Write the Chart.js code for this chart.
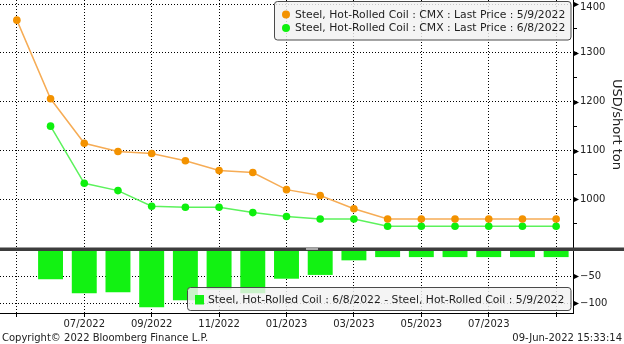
<!DOCTYPE html>
<html>
<head>
<meta charset="utf-8">
<script src="https://cdn.jsdelivr.net/npm/chart.js@4/dist/chart.umd.min.js"></script>
<style>
  html, body { margin: 0; padding: 0; background: #fff; overflow: hidden; }
  canvas { display: block; }
</style>
</head>
<body>
<canvas id="c" width="624" height="344"></canvas>
<script>
// Contract months on the CME HRC futures curve
const MONTHS = ['05/2022', '06/2022', '07/2022', '08/2022', '09/2022', '10/2022', '11/2022', '12/2022',
                '01/2023', '02/2023', '03/2023', '04/2023', '05/2023', '06/2023', '07/2023', '08/2023', '09/2023'];

// Curve as of 5/9/2022 (USD/short ton)
const CURVE_MAY9 = [1367, 1206, 1115, 1098, 1094, 1079, 1059, 1055, 1020, 1008, 981, 960, 960, 960, 960, 960, 960];

// Curve as of 6/8/2022 (USD/short ton)
const CURVE_JUN8 = [null, 1150, 1033, 1018, 986, 984, 984, 973, 965, 960, 960, 945, 945, 945, 945, 945, 945];

// Change between the two curves (6/8 minus 5/9)
const CURVE_CHANGE = [null, -56, -82, -80, -108, -95, -75, -82, -55, -48, -21, -15, -15, -15, -15, -15, -15];

// Right-hand axis ticks
const PRICE_TICKS = [950, 1000, 1050, 1100, 1150, 1200, 1250, 1300, 1350, 1400];
const CHANGE_TICKS = [-100, -75, -50, -25, 0];

const LABEL_MAY9 = 'Steel, Hot-Rolled Coil : CMX : Last Price : 5/9/2022';
const LABEL_JUN8 = 'Steel, Hot-Rolled Coil : CMX : Last Price : 6/8/2022';
const LABEL_CHANGE = 'Steel, Hot-Rolled Coil : 6/8/2022 - Steel, Hot-Rolled Coil : 5/9/2022';

const FAMILY = '"DejaVu Sans", sans-serif';
const ORANGE = '#F39200';
const ORANGE_LINE = '#F6AC55';
const GREEN = '#0EF00E';
const GREEN_LINE = '#5CF25C';
const BAR_GREEN = '#12F212';
const CLEAR = 'rgba(0,0,0,0)';

const priceLabelled = v => v % 100 === 0;
const changeLabelled = v => v % 50 === 0 && v !== 0;
const TOP_PRICE = PRICE_TICKS[PRICE_TICKS.length - 1];

// keep the plot flush with the canvas edges
function noEdgePadding(s) {
  s.paddingTop = 0; s.paddingBottom = 0; s.paddingLeft = 0; s.paddingRight = 0;
}

function boxPath(ctx, x, y, w, h, r) {
  ctx.beginPath();
  ctx.moveTo(x + r, y);
  ctx.lineTo(x + w - r, y);
  ctx.arcTo(x + w, y, x + w, y + r, r);
  ctx.lineTo(x + w, y + h - r);
  ctx.arcTo(x + w, y + h, x + w - r, y + h, r);
  ctx.lineTo(x + r, y + h);
  ctx.arcTo(x, y + h, x, y + h - r, r);
  ctx.lineTo(x, y + r);
  ctx.arcTo(x, y, x + r, y, r);
  ctx.closePath();
}

function legendBox(ctx, x, y, w, h) {
  boxPath(ctx, x, y, w, h, 3);
  ctx.fillStyle = 'rgba(242,242,242,0.82)';
  ctx.fill();
  ctx.lineWidth = 1;
  ctx.strokeStyle = '#4a4a4a';
  ctx.stroke();
}

// Pane divider, tick arrows, in-plot legends and footer
const bloombergDecor = {
  id: 'bloombergDecor',
  afterDraw(chart) {
    const { ctx, chartArea: a, scales } = chart;
    const ds = chart.data.datasets;
    ctx.save();

    // arrow heads on labelled ticks
    ctx.fillStyle = '#000';
    [['y', priceLabelled], ['y2', changeLabelled]].forEach(([id, isLab]) => {
      const s = scales[id];
      s.ticks.forEach(t => {
        if (!isLab(t.value)) return;
        const y = Math.round(s.getPixelForValue(t.value)) + 0.5;
        ctx.beginPath();
        ctx.moveTo(a.right, y - 3);
        ctx.lineTo(a.right + 6, y);
        ctx.lineTo(a.right, y + 3);
        ctx.closePath();
        ctx.fill();
      });
    });

    // divider between the price pane and the change pane
    const yDiv = scales.y2.top;
    ctx.fillStyle = '#3d3d3d';
    ctx.fillRect(0, yDiv - 1.5, chart.width, 3.5);
    ctx.fillStyle = '#a8a8a8';
    ctx.fillRect(306, yDiv - 1, 12, 2);

    // price pane legend
    ctx.font = '10.8px ' + FAMILY;
    ctx.textBaseline = 'middle';
    ctx.textAlign = 'left';
    const lx = 274.5, ly = 1.5, lw = a.right - 2 - lx, lh = 38.5;
    legendBox(ctx, lx, ly, lw, lh);
    [[ds[0], 14.5], [ds[1], 28]].forEach(([d, yy]) => {
      ctx.beginPath();
      ctx.arc(286, yy, 4, 0, Math.PI * 2);
      ctx.fillStyle = d.pointBackgroundColor;
      ctx.fill();
      ctx.fillStyle = '#1e1e1e';
      ctx.fillText(d.label, 295, yy + 0.5);
    });

    // change pane legend
    const bx = 187.5, by = 287.5, bw = a.right - 2 - bx, bh = 23;
    legendBox(ctx, bx, by, bw, bh);
    ctx.fillStyle = ds[2].backgroundColor;
    ctx.fillRect(195, 295, 9, 9.5);
    ctx.fillStyle = '#1e1e1e';
    ctx.fillText(ds[2].label, 208, 300.5);

    // footer
    ctx.font = '10px ' + FAMILY;
    ctx.textBaseline = 'alphabetic';
    ctx.fillStyle = '#222';
    ctx.textAlign = 'left';
    ctx.fillText('Copyright\u00A9 2022 Bloomberg Finance L.P.', 2, 340.5);
    ctx.textAlign = 'right';
    ctx.fillText('09-Jun-2022 15:33:14', 622, 340.5);

    ctx.restore();
  }
};

const tickFont = { family: FAMILY, size: 10 };

new Chart(document.getElementById('c'), {
  type: 'bar',
  data: {
    labels: MONTHS,
    datasets: [
      {
        type: 'line', label: LABEL_MAY9, data: CURVE_MAY9, yAxisID: 'y',
        borderColor: ORANGE_LINE, borderWidth: 1.5,
        pointBackgroundColor: ORANGE, pointBorderColor: ORANGE, pointRadius: 3.8, pointBorderWidth: 0,
        tension: 0
      },
      {
        type: 'line', label: LABEL_JUN8, data: CURVE_JUN8, yAxisID: 'y',
        borderColor: GREEN_LINE, borderWidth: 1.5,
        pointBackgroundColor: GREEN, pointBorderColor: GREEN, pointRadius: 3.8, pointBorderWidth: 0,
        tension: 0
      },
      {
        type: 'bar', label: LABEL_CHANGE, data: CURVE_CHANGE, yAxisID: 'y2',
        backgroundColor: BAR_GREEN, borderWidth: 0,
        barPercentage: 0.74, categoryPercentage: 1
      }
    ]
  },
  options: {
    responsive: false,
    animation: false,
    devicePixelRatio: 1,
    layout: { padding: 0, autoPadding: false },
    plugins: { legend: { display: false }, tooltip: { enabled: false } },
    scales: {
      x: {
        type: 'category',
        offset: true,
        grid: {
          offset: false,
          lineWidth: 1,
          color: c => (c.index % 2 === 0 ? '#000' : CLEAR),
          tickColor: c => (c.index % 2 === 0 ? '#000' : CLEAR),
          tickLength: 4
        },
        border: { display: true, color: '#000', width: 1, dash: [1, 2] },
        ticks: {
          autoSkip: false, maxRotation: 0, minRotation: 0, padding: 1,
          font: tickFont, color: '#222',
          callback: (v, i) => (i % 2 === 0 && i > 0 && i < MONTHS.length - 1 ? MONTHS[i] : '')
        },
        afterFit: s => { s.height = 31; noEdgePadding(s); }
      },
      y: {
        type: 'linear', position: 'right', stack: 'panes', stackWeight: 249,
        min: 898.5, max: 1408.2,
        afterBuildTicks: s => { s.ticks = PRICE_TICKS.map(v => ({ value: v })); },
        grid: {
          lineWidth: 1,
          color: c => (c.tick && priceLabelled(c.tick.value) ? '#000' : CLEAR),
          tickColor: '#000', tickLength: 4
        },
        border: { display: true, color: '#000', width: 1, dash: [1, 2] },
        ticks: {
          padding: 3, color: '#222',
          // the topmost label sits a little below its tick so it stays inside the canvas
          font: c => ({ family: FAMILY, size: 10, lineHeight: c.tick && c.tick.value === TOP_PRICE ? 0.6 : 1.2 }),
          callback: v => (v === TOP_PRICE ? ['', String(v)] : priceLabelled(v) ? String(v) : '')
        },
        title: {
          display: true, text: 'USD/short ton', color: '#222',
          font: { family: FAMILY, size: 13 }, padding: { top: 0, bottom: 0 }
        },
        afterFit: s => { s.width = 51; noEdgePadding(s); }
      },
      y2: {
        type: 'linear', position: 'right', stack: 'panes', stackWeight: 64,
        min: -118.5, max: 0,
        afterBuildTicks: s => { s.ticks = CHANGE_TICKS.map(v => ({ value: v })); },
        grid: {
          lineWidth: 1,
          color: c => (c.tick && changeLabelled(c.tick.value) ? '#000' : CLEAR),
          tickColor: '#000', tickLength: 4
        },
        border: { display: true, color: '#000', width: 1, dash: [1, 2] },
        ticks: {
          padding: 3, font: tickFont, color: '#222',
          callback: v => (changeLabelled(v) ? '\u2212' + Math.abs(v) : '')
        },
        afterFit: s => { s.width = 51; noEdgePadding(s); }
      }
    }
  },
  plugins: [bloombergDecor]
});
</script>
</body>
</html>
